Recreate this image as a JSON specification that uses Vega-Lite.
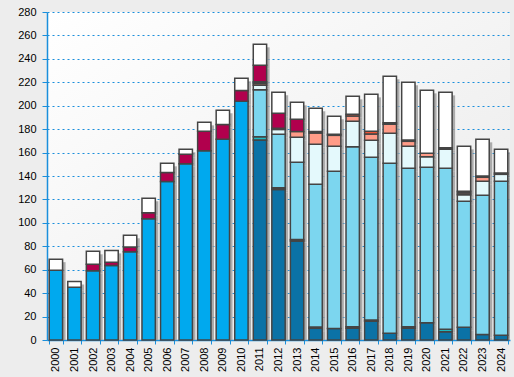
{
  "$schema": "https://vega.github.io/schema/vega-lite/v6.json",
  "width": 463,
  "height": 328,
  "autosize": {"type": "none"},
  "padding": {"left": 47, "top": 12, "right": 4, "bottom": 37},
  "background": "#ededed",
  "config": {
    "view": {"stroke": null, "fill": {"gradient": "linear", "x1": 0, "y1": 0, "x2": 1, "y2": 1, "stops": [{"offset": 0, "color": "#ffffff"}, {"offset": 1, "color": "#e9e9e9"}]}},
    "font": "Liberation Sans",
    "axis": {"labelFont": "Liberation Sans", "labelFontSize": 11, "labelColor": "#000000", "domainColor": "#1a8fdc", "tickColor": "#1a8fdc", "title": null}
  },
  "data": {
    "values": [
      {"year": "2000", "d_bright": 59.5, "k_white": 9.5},
      {"year": "2001", "d_bright": 45, "k_white": 5},
      {"year": "2002", "d_bright": 59.2, "j_magenta": 5.4, "k_white": 11.1},
      {"year": "2003", "d_bright": 63.5, "j_magenta": 2.8, "k_white": 10.2},
      {"year": "2004", "d_bright": 75.4, "j_magenta": 4, "k_white": 10},
      {"year": "2005", "d_bright": 103.6, "j_magenta": 5.1, "k_white": 12.3},
      {"year": "2006", "d_bright": 135.2, "j_magenta": 7.7, "k_white": 7.9},
      {"year": "2007", "d_bright": 150.5, "j_magenta": 8, "k_white": 4.3},
      {"year": "2008", "d_bright": 161.6, "j_magenta": 16.7, "k_white": 7.5},
      {"year": "2009", "d_bright": 171.3, "j_magenta": 12.6, "k_white": 12.2},
      {"year": "2010", "d_bright": 203.8, "j_magenta": 9.1, "k_white": 10.5},
      {"year": "2011", "a_dark": 170.8, "c_teal": 2.8, "e_light": 40, "f_vlight": 3.8, "g_salmon": 1.5, "i_dk2": 1.5, "j_magenta": 14.1, "k_white": 17.9},
      {"year": "2012", "a_dark": 128.5, "b_dk1": 1.5, "e_light": 45.6, "f_vlight": 4.2, "i_dk2": 1, "j_magenta": 12.7, "k_white": 18},
      {"year": "2013", "a_dark": 84.5, "b_dk1": 1.2, "e_light": 66, "f_vlight": 21.3, "g_salmon": 4.9, "j_magenta": 10.5, "k_white": 14.5},
      {"year": "2014", "a_dark": 10, "b_dk1": 1, "e_light": 122, "f_vlight": 34, "g_salmon": 9.7, "h_red": 1.2, "k_white": 19.9},
      {"year": "2015", "a_dark": 9.8, "e_light": 134.2, "f_vlight": 21.4, "g_salmon": 9.3, "i_dk2": 0.9, "k_white": 15.4},
      {"year": "2016", "a_dark": 10, "c_teal": 1.4, "e_light": 153.6, "f_vlight": 21.7, "g_salmon": 4.5, "h_red": 1.5, "k_white": 15.3},
      {"year": "2017", "a_dark": 16, "b_dk1": 1, "e_light": 139, "f_vlight": 14.5, "g_salmon": 5.4, "h_red": 2.2, "k_white": 31.6},
      {"year": "2018", "a_dark": 5.7, "e_light": 145.1, "f_vlight": 25.6, "g_salmon": 7.7, "i_dk2": 1.4, "k_white": 39.6},
      {"year": "2019", "a_dark": 10, "b_dk1": 1.4, "e_light": 135.2, "f_vlight": 18.7, "g_salmon": 4.3, "i_dk2": 1.1, "k_white": 49.3},
      {"year": "2020", "a_dark": 14.8, "e_light": 132.6, "f_vlight": 9.1, "g_salmon": 2.9, "k_white": 53.7},
      {"year": "2021", "a_dark": 7.1, "c_teal": 2, "e_light": 137.5, "f_vlight": 16.2, "g_salmon": 1.4, "k_white": 47.2},
      {"year": "2022", "a_dark": 10.8, "e_light": 107.6, "f_vlight": 5.6, "g_salmon": 1.5, "i_dk2": 1.4, "k_white": 38.4},
      {"year": "2023", "a_dark": 4.6, "e_light": 118.9, "f_vlight": 12, "g_salmon": 3.4, "i_dk2": 1.1, "k_white": 31.3},
      {"year": "2024", "a_dark": 4, "e_light": 131.5, "f_vlight": 5.9, "g_salmon": 1.2, "k_white": 20.2}
    ]
  },
  "transform": [
    {"fold": ["a_dark", "b_dk1", "c_teal", "d_bright", "e_light", "f_vlight", "g_salmon", "h_red", "i_dk2", "j_magenta", "k_white"], "as": ["series", "value"]},
    {"filter": "isValid(datum.value) && datum.value > 0"}
  ],
  "encoding": {
    "x": {
      "field": "year", "type": "ordinal",
      "scale": {"paddingInner": 0.28, "paddingOuter": 0.12},
      "axis": {"labelAngle": 270, "tickBand": "extent", "tickSize": 4, "labelPadding": 3, "grid": false, "domainWidth": 1.5}
    },
    "y": {
      "field": "value", "type": "quantitative", "stack": "zero",
      "scale": {"domain": [0, 280], "nice": false},
      "axis": {"values": [0, 20, 40, 60, 80, 100, 120, 140, 160, 180, 200, 220, 240, 260, 280], "tickSize": 5, "labelPadding": 6, "grid": true, "gridColor": "#1a8fdc", "gridDash": [2, 3], "gridWidth": 1, "domainWidth": 1.5}
    },
    "order": {"field": "series", "type": "nominal", "sort": "ascending"},
    "color": {
      "field": "series", "type": "nominal", "legend": null,
      "scale": {
        "domain": ["a_dark", "b_dk1", "c_teal", "d_bright", "e_light", "f_vlight", "g_salmon", "h_red", "i_dk2", "j_magenta", "k_white"],
        "range": ["#0b72a6", "#34485a", "#1fb8c0", "#00a9ee", "#7cd6ef", "#e4f9fc", "#ff9c88", "#ee5232", "#444448", "#b1004d", "#ffffff"]
      }
    }
  },
  "layer": [
    {"mark": {"type": "bar", "color": "#9a9a9a", "opacity": 0.8, "xOffset": 3, "yOffset": 3, "clip": true}, "encoding": {"color": {"value": "#9a9a9a"}}},
    {"mark": {"type": "bar", "stroke": "#444444", "strokeWidth": 1.5}}
  ]
}
